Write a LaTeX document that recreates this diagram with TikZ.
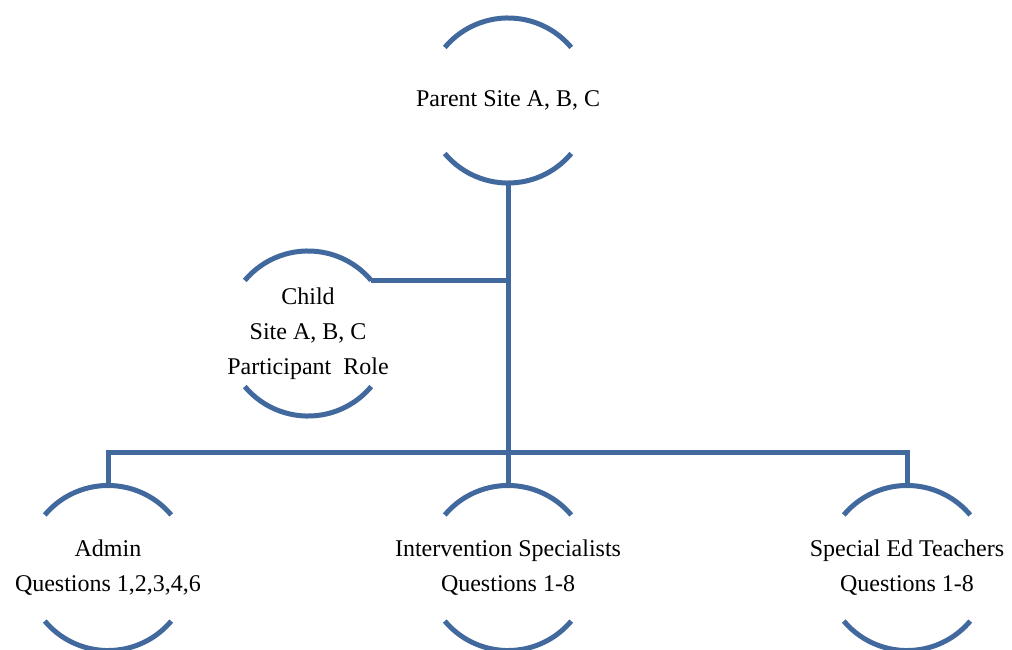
\documentclass[tikz,border=0pt]{standalone}
\usepackage{fontspec}
\setmainfont{Liberation Serif}
\usepackage{tikz}
\usetikzlibrary{positioning}
\definecolor{TreeBlue}{HTML}{41699E}
\newcommand{\arcrad}{61.9pt}
% open circle: only the top and bottom arcs are drawn
\newcommand{\rims}[1]{%
  \draw[rim] ([shift={(140:\arcrad)}]#1.center) arc[start angle=140,end angle=40,radius=\arcrad];
  \draw[rim] ([shift={(220:\arcrad)}]#1.center) arc[start angle=220,end angle=320,radius=\arcrad];}
\tikzset{
  role/.style={align=center,inner sep=0pt,font=\fontsize{18}{26.25}\selectfont},
  rim/.style={draw=TreeBlue,line width=3.75pt},
  link/.style={draw=TreeBlue,line width=3.75pt}
}

\begin{document}
\begin{tikzpicture}[x=0.75pt,y=-0.75pt]
  \useasboundingbox (0,0) rectangle (1012,649);
  \node[role] (parent) at (508,100.5) {Parent Site A, B, C};
  \node[role] (child) at (308,333.5) {Child\\Site A, B, C\\Participant\ \ Role};
  \node[role] (admin) at (108,568) {Admin\\Questions 1,2,3,4,6};
  \node[role] (interv) at (508,568) {Intervention Specialists\\Questions 1-8};
  \node[role] (sped) at (907,568) {Special Ed Teachers\\Questions 1-8};
  \rims{parent}
  \rims{child}
  \rims{admin}
  \rims{interv}
  \rims{sped}
  \coordinate (pb) at ([yshift=-\arcrad]parent.center);
  \coordinate (ce) at ([shift={(40:\arcrad)}]child.center);
  \coordinate (at) at ([yshift=\arcrad]admin.center);
  \coordinate (it) at ([yshift=\arcrad]interv.center);
  \coordinate (st) at ([yshift=\arcrad]sped.center);
  \coordinate (bar) at (508,452);
  \draw[link] (pb) -- (it);
  \draw[link] (ce) -- (ce -| pb);
  \draw[link] (at) |- (bar) -| (st);
\end{tikzpicture}
\end{document}
